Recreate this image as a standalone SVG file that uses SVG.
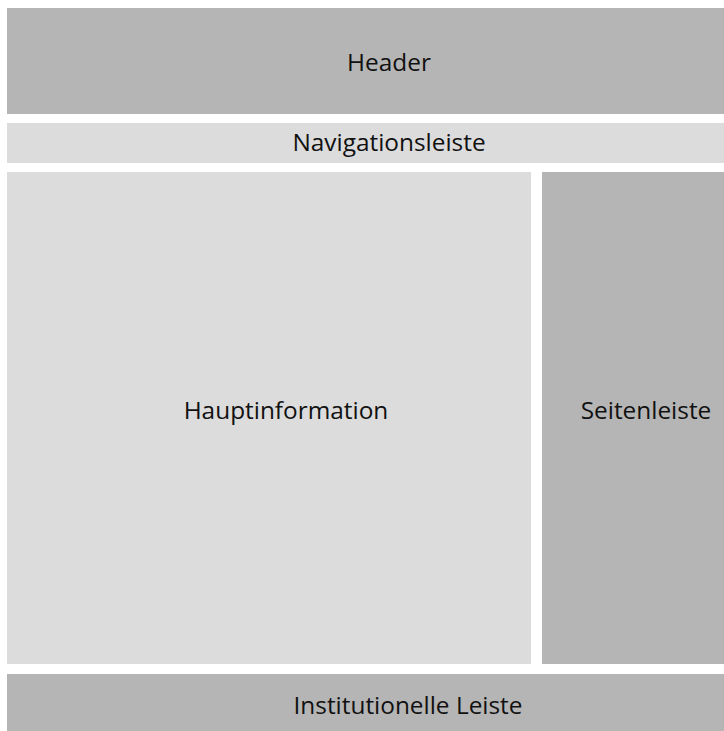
<svg xmlns="http://www.w3.org/2000/svg" width="724" height="731" viewBox="0 0 724 731">
<style>
.dark{fill:#b5b5b5}
.light{fill:#dcdcdc}
text{font-family:"Open Sans","Noto Sans",sans-serif;font-size:24.4px;fill:#111;text-anchor:middle;dominant-baseline:central}
</style>
<rect width="724" height="731" fill="#ffffff"/>
<g id="header"><rect class="dark" x="7" y="8" width="717" height="106"/><text x="389" y="61">Header</text></g>
<g id="nav"><rect class="light" x="7" y="123" width="717" height="40"/><text x="389" y="141">Navigationsleiste</text></g>
<g id="main"><rect class="light" x="7" y="172" width="524" height="492"/><text x="286" y="409">Hauptinformation</text></g>
<g id="sidebar"><rect class="dark" x="542" y="172" width="182" height="492"/><text x="646" y="409">Seitenleiste</text></g>
<g id="footer"><rect class="dark" x="7" y="674" width="717" height="57"/><text x="408" y="704">Institutionelle Leiste</text></g>
<g id="connectors"></g>
</svg>
